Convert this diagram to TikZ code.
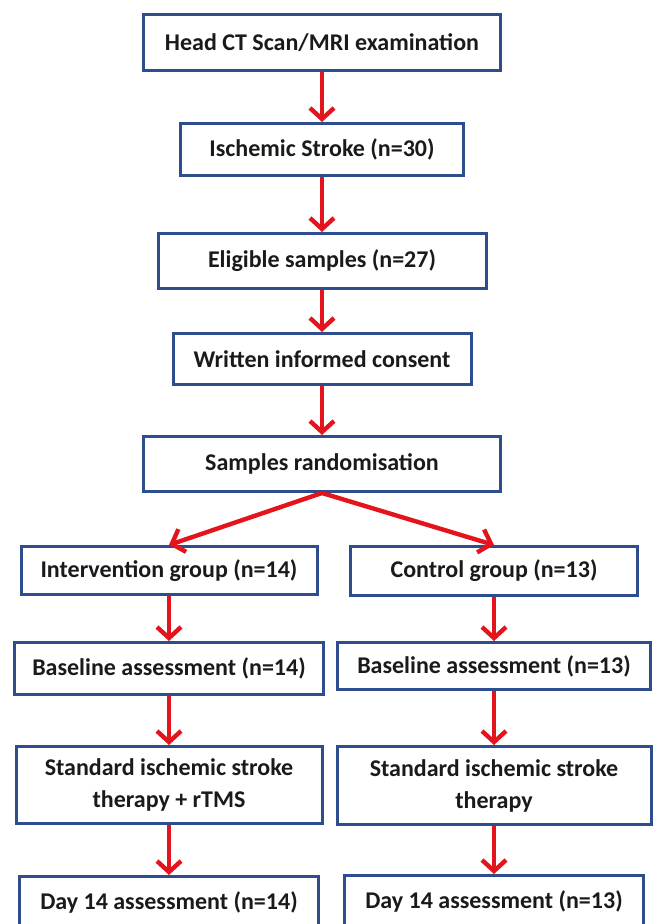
\documentclass[tikz,border=0pt]{standalone}
\usepackage{fontspec}
\setmainfont{Carlito}
\usepackage{xcolor}
\usepackage{tikz}
\usetikzlibrary{positioning,arrows.meta}
\definecolor{FlowBlue}{HTML}{2E4D8E}
\definecolor{FlowRed}{HTML}{E3141C}
\definecolor{FlowText}{HTML}{1A1A1A}
\tikzset{flowbox/.style={draw=FlowBlue, line width=1.5pt, fill=white, align=center, text=FlowText, inner sep=2pt, font=\bfseries\fontsize{12}{16}\selectfont}, flowarrow/.style={-{Straight Barb[length=5.5pt,width=12pt]}, line width=2.2pt, draw=FlowRed}}

\begin{document}
\begin{tikzpicture}
\path[use as bounding box, clip] (0,0) rectangle (330pt,-462pt);
\node[flowbox, minimum width=178.5pt, minimum height=28pt] (head) at (161pt,-21.25pt) {Head CT Scan/MRI examination};
\node[flowbox, minimum width=141.5pt, minimum height=26pt, below=25pt of head] (stroke) {Ischemic Stroke (n=30)};
\node[flowbox, minimum width=164pt, minimum height=27.5pt, below=27.5pt of stroke] (eligible) {Eligible samples (n=27)};
\node[flowbox, minimum width=149pt, minimum height=25.5pt, below=21pt of eligible] (consent) {Written informed consent};
\node[flowbox, minimum width=178.5pt, minimum height=27.5pt, below=24.5pt of consent] (random) {Samples randomisation};
\node[flowbox, minimum width=148pt, minimum height=24pt, below=26pt of random, xshift=-76.5pt] (intgroup) {Intervention group (n=14)};
\node[flowbox, minimum width=143.5pt, minimum height=24.5pt, below=26pt of random, xshift=86pt] (ctrlgroup) {Control group (n=13)};
\node[flowbox, minimum width=154.5pt, minimum height=26pt, below=22.5pt of intgroup] (intbase) {Baseline assessment (n=14)};
\node[flowbox, minimum width=156.5pt, minimum height=23.5pt, below=22pt of ctrlgroup] (ctrlbase) {Baseline assessment (n=13)};
\node[flowbox, minimum width=153pt, minimum height=38.5pt, below=24.5pt of intbase] (inttherapy) {Standard ischemic stroke\\therapy + rTMS};
\node[flowbox, minimum width=157pt, minimum height=39pt, below=27pt of ctrlbase] (ctrltherapy) {Standard ischemic stroke\\therapy};
\node[flowbox, minimum width=149.5pt, minimum height=25.5pt, below=25pt of inttherapy] (intday) {Day 14 assessment (n=14)};
\node[flowbox, minimum width=149.5pt, minimum height=25.5pt, below=24pt of ctrltherapy] (ctrlday) {Day 14 assessment (n=13)};
\draw[flowarrow] (head) -- (stroke);
\draw[flowarrow] (stroke) -- (eligible);
\draw[flowarrow] (eligible) -- (consent);
\draw[flowarrow] (consent) -- (random);
\draw[flowarrow] (random.south) -- (intgroup.north);
\draw[flowarrow] (random.south) -- (ctrlgroup.north);
\draw[flowarrow] (intgroup) -- (intbase);
\draw[flowarrow] (ctrlgroup) -- (ctrlbase);
\draw[flowarrow] (intbase) -- (inttherapy);
\draw[flowarrow] (ctrlbase) -- (ctrltherapy);
\draw[flowarrow] (inttherapy) -- (intday);
\draw[flowarrow] (ctrltherapy) -- (ctrlday);
\end{tikzpicture}
\end{document}
